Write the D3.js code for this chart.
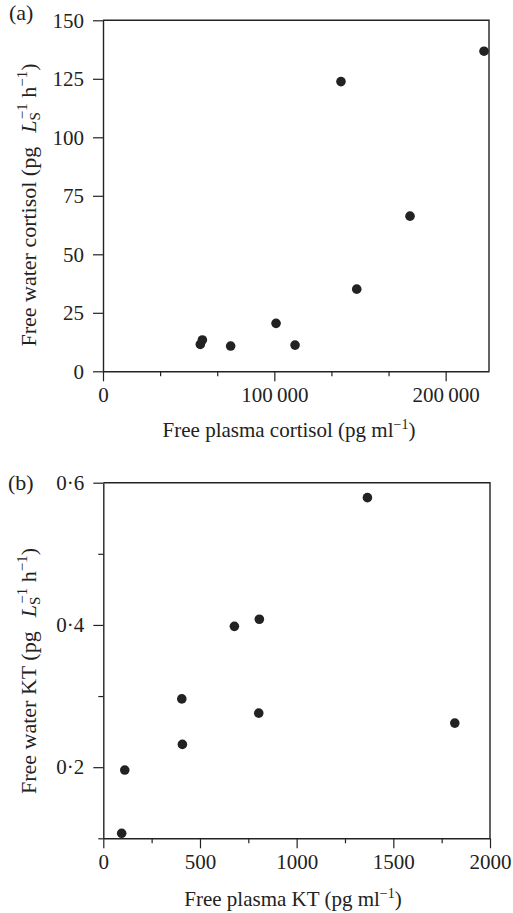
<!DOCTYPE html>
<html>
<head>
<meta charset="utf-8">
<script src="https://cdn.jsdelivr.net/npm/d3@7"></script>
<style>
  html, body { margin: 0; padding: 0; background: #fff; }
  svg { display: block; }
  text { font-family: "Liberation Serif", "Times New Roman", serif; fill: #222; }
</style>
</head>
<body>
<svg id="chart" width="513" height="913"></svg>
<script>
// ---------- Data ----------
// Panel (a): cortisol
const cortisolPlasma = [56800, 58000, 74500, 101000, 112100, 148100, 179200, 138900, 222400];
const cortisolWater  = [11.5, 13.4, 10.8, 20.5, 11.2, 35.1, 66.3, 123.8, 136.8];
const cortisolYTicks = [0, 25, 50, 75, 100, 125, 150];
const cortisolXMajor = [0, 100000, 200000];
const cortisolXMinor = [33333, 66667, 133333, 166667];
const cortisolXLabels = ["0", "100\u2009000", "200\u2009000"];

// Panel (b): KT
const ktPlasma = [95, 111, 406, 409, 678, 804, 807, 1366, 1818];
const ktWater  = [0.107, 0.196, 0.296, 0.232, 0.398, 0.276, 0.408, 0.579, 0.262];
const ktXMajor = [0, 500, 1000, 1500, 2000];
const ktXMinor = [250, 750, 1250, 1750];
const ktYMajor = [0.2, 0.4, 0.6];
const ktYMinor = [0.1, 0.3, 0.5];
const ktYLabels = ["0\u00b72", "0\u00b74", "0\u00b76"];

const svg = d3.select("#chart");
const ink = "#222";
const FS_TICK = 21;
const FS_XTITLE = 21;
const FS_YTITLE = 22;

function panel(cfg) {
  const g = svg.append("g");
  const x = d3.scaleLinear().domain(cfg.xDomain).range([cfg.left, cfg.right]);
  const y = d3.scaleLinear().domain(cfg.yDomain).range([cfg.bottom, cfg.top]);

  // frame (top + right)
  g.append("path")
    .attr("d", `M${cfg.left},${cfg.top}H${cfg.right}V${cfg.bottom}`)
    .attr("fill", "none").attr("stroke", ink).attr("stroke-width", 1.4);

  function styleAxis(sel) {
    sel.attr("font-family", null).attr("font-size", null);
    sel.select(".domain").attr("stroke", ink).attr("stroke-width", 1.4);
    sel.selectAll(".tick line").attr("stroke", ink).attr("stroke-width", 1.2);
    sel.selectAll("text").style("font-size", FS_TICK + "px").attr("fill", ink);
  }

  // x axis: minor then major ticks
  const xMinorG = g.append("g").attr("transform", `translate(0,${cfg.bottom})`)
    .call(d3.axisBottom(x).tickValues(cfg.xMinor).tickSize(5).tickFormat(""));
  styleAxis(xMinorG);
  xMinorG.select(".domain").remove();
  const xAxisG = g.append("g").attr("transform", `translate(0,${cfg.bottom})`)
    .call(d3.axisBottom(x).tickValues(cfg.xMajor).tickSize(10).tickSizeOuter(0).tickPadding(6)
      .tickFormat((d, i) => cfg.xLabels[i]));
  styleAxis(xAxisG);

  // y axis: minor then major ticks
  if (cfg.yMinor) {
    const yMinorG = g.append("g").attr("transform", `translate(${cfg.left},0)`)
      .call(d3.axisLeft(y).tickValues(cfg.yMinor).tickSize(5).tickFormat(""));
    styleAxis(yMinorG);
    yMinorG.select(".domain").remove();
  }
  const yAxisG = g.append("g").attr("transform", `translate(${cfg.left},0)`)
    .call(d3.axisLeft(y).tickValues(cfg.yMajor).tickSize(10).tickSizeOuter(0).tickPadding(9)
      .tickFormat((d, i) => cfg.yLabels[i]));
  styleAxis(yAxisG);

  // points
  g.append("g").selectAll("circle")
    .data(cfg.xs.map((v, i) => [v, cfg.ys[i]]))
    .join("circle")
    .attr("cx", d => x(d[0])).attr("cy", d => y(d[1]))
    .attr("r", 4.8).attr("fill", ink);

  // panel letter
  g.append("text").attr("x", cfg.letterX).attr("y", cfg.letterY)
    .style("font-size", "22px").text(cfg.letter);

  // x title
  const xt = g.append("text")
    .attr("x", cfg.xTitleX).attr("y", cfg.xTitleY)
    .attr("text-anchor", "middle").style("font-size", FS_XTITLE + "px");
  xt.append("tspan").text(cfg.xTitle + " (pg ml");
  xt.append("tspan").style("font-size", "14px").attr("dy", -8).text("\u22121");
  xt.append("tspan").attr("dy", 8).text(")");

  // y title (rotated)
  const yt = g.append("text")
    .attr("transform", `translate(${cfg.yTitleX},${cfg.yTitleY}) rotate(-90)`)
    .attr("text-anchor", "middle").style("font-size", FS_YTITLE + "px");
  yt.append("tspan").text(cfg.yTitle + " (pg\u2002");
  yt.append("tspan").attr("dx", 3).style("font-style", "italic").text("L");
  yt.append("tspan").style("font-size", "15px").attr("dy", 4).text("S");
  yt.append("tspan").style("font-size", "15px").attr("dx", -7).attr("dy", -13).text("\u22121");
  yt.append("tspan").attr("dy", 9).text(" h");
  yt.append("tspan").style("font-size", "15px").attr("dy", -9).text("\u22121");
  yt.append("tspan").attr("dy", 9).text(")");
}

panel({
  xDomain: [0, 225300], yDomain: [0, 150],
  left: 103, right: 489, top: 20.3, bottom: 371.3,
  xMajor: cortisolXMajor, xMinor: cortisolXMinor, xLabels: cortisolXLabels,
  yMajor: cortisolYTicks, yMinor: null, yLabels: cortisolYTicks.map(String),
  xs: cortisolPlasma, ys: cortisolWater,
  letter: "(a)", letterX: 9, letterY: 20,
  xTitle: "Free plasma cortisol", xTitleX: 289, xTitleY: 437,
  yTitle: "Free water cortisol", yTitleX: 36, yTitleY: 205
});

panel({
  xDomain: [0, 2000], yDomain: [0.1, 0.6],
  left: 103.3, right: 490, top: 482.7, bottom: 838.3,
  xMajor: ktXMajor, xMinor: ktXMinor, xLabels: ktXMajor.map(String),
  yMajor: ktYMajor, yMinor: ktYMinor, yLabels: ktYLabels,
  xs: ktPlasma, ys: ktWater,
  letter: "(b)", letterX: 8, letterY: 490,
  xTitle: "Free plasma KT", xTitleX: 293, xTitleY: 906,
  yTitle: "Free water KT", yTitleX: 36, yTitleY: 671
});
</script>
</body>
</html>
